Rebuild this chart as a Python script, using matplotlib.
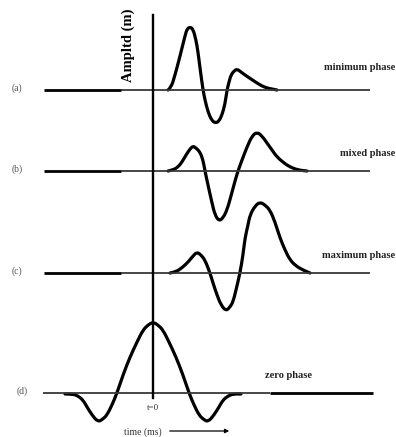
import numpy as np
import matplotlib.pyplot as plt
from matplotlib.path import Path
from matplotlib.patches import PathPatch

# time offset from t=0 (px) and amplitude (px, up positive)
t_min = [15, 18, 22, 26, 29, 32, 34, 37, 40, 43, 45, 47, 50, 52, 55, 59, 63, 66,
         69, 72, 74, 76, 78, 81, 84, 88, 92, 98, 104, 109, 114, 119, 124]
a_min = [0, 2, 15, 30, 42, 54, 61, 63, 61, 50, 38, 22, 0, -10, -22, -31, -33, -31,
         -25, -14, 0, 8, 15, 19, 21, 18, 15, 11, 7, 4, 2, 1, 0]

t_mix = [15, 20, 25, 29, 33, 37, 40, 43, 47, 50, 52, 55, 59, 62, 66, 70, 74, 78,
         82, 85, 89, 94, 99, 104, 109, 114, 119, 124, 131, 137, 145, 154]
a_mix = [0, 1, 4, 9, 16, 22, 25, 23, 19, 11, 0, -14, -32, -44, -50, -47, -39, -25,
         -10, 0, 11, 24, 35, 39, 35, 28, 21, 14, 8, 4, 1, 0]

t_max = [17, 23, 30, 36, 40, 44, 48, 52, 57, 60, 64, 68, 73, 77, 80, 83, 87, 90,
         92, 95, 97, 102, 107, 112, 117, 122, 127, 132, 137, 143, 150, 157]
a_max = [0, 1, 6, 12, 17, 21, 18, 13, 0, -10, -22, -32, -38, -34, -29, -17, 0, 18,
         35, 48, 58, 67, 71, 68, 63, 51, 35, 23, 13, 7, 3, 0]

t_zero = [-88, -80, -75, -70, -66, -61, -55, -50, -46, -41, -36, -30, -23, -16, -10,
          -5, 0, 5, 10, 16, 23, 30, 36, 41, 46, 50, 55, 61, 66, 70, 75, 80, 88]
a_zero = [-1, -1, -3, -7, -14, -22, -29, -26, -22, -12, 0, 18, 36, 51, 63, 68, 71,
          68, 63, 51, 36, 18, 0, -12, -22, -26, -29, -22, -14, -7, -3, -1, -1]

letters = ["(a)", "(b)", "(c)", "(d)"]
names = ["minimum phase", "mixed phase", "maximum phase", "zero phase"]
baselines = [90, 171, 273, 393]

t0 = 153  # position of t=0

fig = plt.figure(figsize=(3.96, 4.37), dpi=100)
ax = fig.add_axes([0, 0, 1, 1])
ax.set_xlim(0, 396)
ax.set_ylim(437, 0)
ax.axis("off")

serif = ["Liberation Serif", "DejaVu Serif"]


def smooth_path(xs, ys):
    # quadratic bezier through the midpoints, read points used as control points
    pts = np.column_stack([xs, ys])
    verts = [pts[0]]
    codes = [Path.MOVETO]
    for i in range(1, len(pts) - 1):
        verts += [pts[i], (pts[i] + pts[i + 1]) / 2]
        codes += [Path.CURVE3, Path.CURVE3]
    verts.append(pts[-1])
    codes.append(Path.LINETO)
    return Path(verts, codes)


# baselines
for b in baselines[:3]:
    ax.plot([44, 121], [b, b], color="black", lw=2.0, solid_capstyle="butt")
    ax.plot([121, 370], [b, b], color="#383838", lw=1.3, solid_capstyle="butt")
ax.plot([43, 270], [393, 393], color="#383838", lw=1.3, solid_capstyle="butt")
ax.plot([270, 373], [393, 393], color="black", lw=2.0, solid_capstyle="butt")

# vertical amplitude axis
ax.plot([t0, t0], [15, 398], color="black", lw=1.7)

# wavelets
waves = [(t_min, a_min), (t_mix, a_mix), (t_max, a_max), (t_zero, a_zero)]
for (t, a), b in zip(waves, baselines):
    p = smooth_path(t0 + np.array(t, float), b - np.array(a, float))
    ax.add_patch(PathPatch(p, fill=False, edgecolor="black", lw=2.3,
                           joinstyle="round", capstyle="round"))

# labels
for lab, b in zip(letters, baselines):
    ax.text(17 if lab != "(d)" else 22, b - 2, lab, family=serif, fontsize=7,
            color="#555555", ha="center", va="center")

name_pos = [(395, 68), (395, 154), (395, 255), (312, 375)]
for nm, (x, y) in zip(names, name_pos):
    ax.text(x, y, nm, family=serif, fontsize=7.5, fontweight="bold",
            color="#222222", ha="right", va="center")

ax.text(128, 45, "Ampltd (m)", family=serif, fontsize=10.5, fontweight="bold",
        rotation=90, ha="center", va="center")
ax.text(t0, 408, "t=0", family=serif, fontsize=6.5, color="#333333",
        ha="center", va="center")
ax.text(143, 432, "time (ms)", family=serif, fontsize=7, color="#333333",
        ha="center", va="center")
ax.annotate("", xy=(232, 431), xytext=(167, 431),
            arrowprops=dict(arrowstyle="-|>", color="black", lw=0.9,
                            mutation_scale=6))

fig.savefig("out.png", dpi=100)
